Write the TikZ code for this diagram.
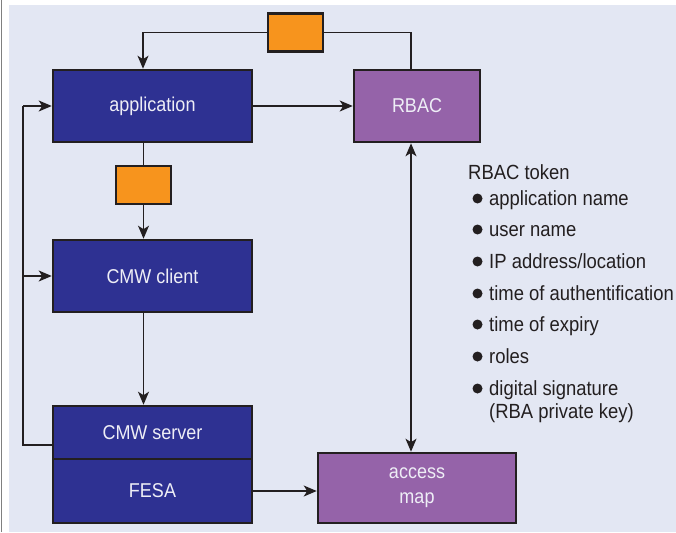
\documentclass[tikz,border=0pt]{standalone}
\usepackage{fontspec}
\setmainfont{Liberation Sans}[FakeStretch=0.9]
\usetikzlibrary{arrows.meta}
\definecolor{bgc}{HTML}{E3E7F3}
\definecolor{navy}{HTML}{2E3192}
\definecolor{purp}{HTML}{9563A9}
\definecolor{orng}{HTML}{F7941D}
\definecolor{edge}{HTML}{231F20}
\definecolor{wtxt}{HTML}{EEEEF6}
\tikzset{
  box/.style={draw=edge, line width=2.6pt, inner sep=0pt, text=wtxt, font=\fontsize{20}{24}\selectfont, align=center},
  bluebox/.style={box, fill=navy, minimum width=199pt, minimum height=72pt},
  purpbox/.style={box, fill=purp},
  orbox/.style={draw=edge, line width=2.6pt, fill=orng, minimum width=55pt, minimum height=38pt, inner sep=0pt},
  conn/.style={draw=edge, line width=1.4pt},
  tip/.tip={Stealth[length=13pt,width=11pt,inset=3.5pt]},
  arr/.style={conn, -tip},
  item/.style={anchor=base west, inner sep=0pt, text=edge, font=\fontsize{20.5}{24}\selectfont, align=left},
  dot/.style={circle, fill=edge, inner sep=0pt, minimum size=10pt}
}
\begin{document}
\begin{tikzpicture}[x=1pt,y=-1pt]
\useasboundingbox (0,0) rectangle (676,532);
\fill[white] (0,0) rectangle (676,532);
\fill[bgc] (9,5) rectangle (676,532);
\draw[gray, line width=1pt] (1.5,0) -- (1.5,532);

% boxes
\node[bluebox] (app) at (152.5,106) {application};
\node[bluebox] (cli) at (152.5,276) {CMW client};
\node[bluebox, minimum height=53pt] (srv) at (152.5,432.5) {CMW server};
\node[bluebox, minimum height=64pt] (fesa) at (152.5,491) {FESA};
\node[purpbox, minimum width=126pt, minimum height=72pt] (rbac) at (417,106) {RBAC};
\node[purpbox, minimum width=198pt, minimum height=70pt] (amap) at (417,488) {access\\[1pt]map};
\node[orbox] (o1) at (295.5,32.5) {};
\node[orbox] (o2) at (143.5,185) {};

% connectors
\coordinate (ra) at (411,33);
\coordinate (la) at (143,33);
\draw[conn] (rbac.north -| ra) |- (o1.east);
\draw[arr] (o1.west) -| (app.north -| la);
\draw[arr] (app.east) -- (rbac.west);
\draw[conn] (app.south -| o2) -- (o2.north);
\draw[arr] (o2.south) -- (cli.north -| o2);
\draw[arr] (cli.south -| o2) -- (srv.north -| o2);
\coordinate (lx) at (23,445);
\draw[conn] (srv.west |- lx) -- (lx) -- (lx |- app.west);
\draw[arr] (lx |- app.west) -- (app.west);
\draw[arr] (lx |- cli.west) -- (cli.west);
\draw[arr] (fesa.east) -- (amap.west |- fesa.east);
\draw[conn, tip-tip] (rbac.south -| ra) -- (amap.north -| ra);

% token list
\node[item] (tok) at (468,179) {RBAC token};
\foreach \n/\y/\t in {a/205/{application name}, b/236/{user name}, c/268/{IP address/location}, d/300/{time of authentification}, e/331/{time of expiry}, f/363/{roles}, g/395/{digital signature}} {
  \node[dot] (d\n) at (477.5,\y-6.5) {};
  \node[item] (t\n) at (489,\y) {\t};
}
\node[item] (th) at (489,418) {(RBA private key)};
\end{tikzpicture}
\end{document}
